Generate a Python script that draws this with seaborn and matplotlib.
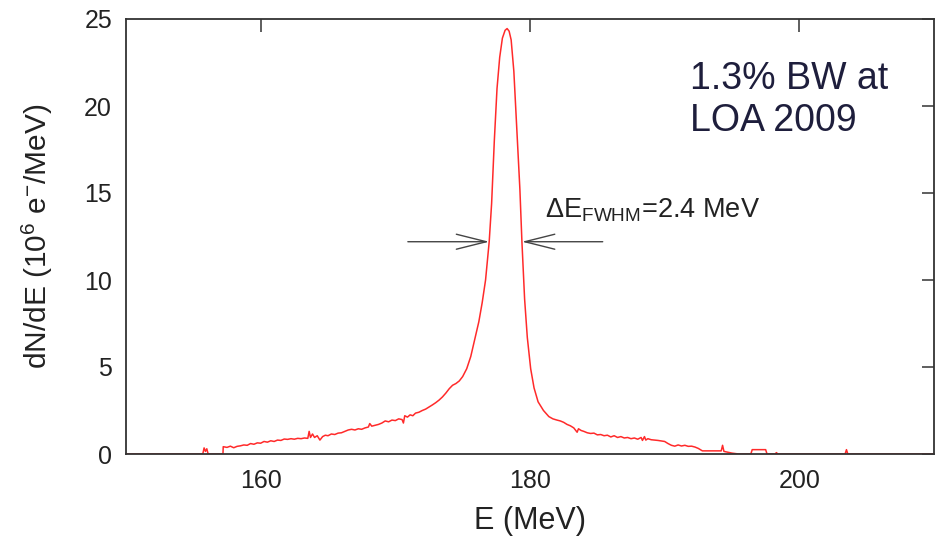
import matplotlib
matplotlib.use("Agg")
import matplotlib.pyplot as plt
import seaborn as sns
import pandas as pd

# Electron energy spectrum (MeV) and counts dN/dE (1e6 e-/MeV)
energy = [
    150.0, 155.7, 155.8, 155.9, 156.0, 156.1, 157.2, 157.22, 157.5, 157.75,
    158.0, 158.25, 158.5, 158.75, 159.0, 159.25, 159.5, 159.75, 160.0, 160.25,
    160.5, 160.75, 161.0, 161.25, 161.5, 161.75, 162.0, 162.25, 162.5, 162.75,
    163.0, 163.25, 163.5, 163.6, 163.7, 163.85, 164.0, 164.2, 164.4, 164.6,
    164.8, 165.0, 165.25, 165.5, 165.75, 166.0, 166.25, 166.5, 166.75, 167.0,
    167.25, 167.5, 167.75, 168.0, 168.1, 168.25, 168.5, 168.75, 169.0, 169.25,
    169.5, 169.75, 170.0, 170.25, 170.5, 170.6, 170.7, 170.9, 171.1, 171.3,
    171.5, 171.75, 172.0, 172.25, 172.5, 172.75, 173.0, 173.25, 173.5, 173.75,
    174.0, 174.25, 174.5, 174.75, 175.0, 175.3, 175.6, 175.9, 176.2, 176.45,
    176.7, 176.97, 177.15, 177.35, 177.55, 177.75, 177.95, 178.15, 178.3, 178.45,
    178.6, 178.8, 179.05, 179.25, 179.4, 179.6, 179.8, 180.05, 180.3, 180.6,
    181.0, 181.4, 181.7, 182.0, 182.25, 182.5, 182.75, 183.0, 183.25, 183.5,
    183.6, 183.8, 184.0, 184.25, 184.5, 184.75, 185.0, 185.25, 185.5, 185.75,
    186.0, 186.25, 186.5, 186.75, 187.0, 187.25, 187.5, 187.75, 188.0, 188.25,
    188.35, 188.5, 188.6, 188.75, 189.0, 189.25, 189.5, 189.75, 190.0, 190.25,
    190.5, 190.75, 191.0, 191.25, 191.5, 191.75, 192.0, 192.25, 192.5, 192.8,
    194.2, 194.3, 194.4, 194.7, 195.0, 195.5, 196.4, 196.5, 197.5, 197.6,
    198.2, 198.3, 198.4, 203.4, 203.5, 203.6, 210.0,
]
counts = [
    0.0, 0.0, 0.35, 0.15, 0.3, 0.0, 0.0, 0.42, 0.38, 0.45,
    0.36, 0.44, 0.47, 0.52, 0.5, 0.6, 0.56, 0.64, 0.62, 0.72,
    0.68, 0.76, 0.72, 0.8, 0.78, 0.86, 0.84, 0.88, 0.85, 0.9,
    0.88, 0.92, 0.9, 1.3, 0.95, 1.15, 0.95, 1.05, 0.8, 1.0,
    1.08, 1.05, 1.15, 1.12, 1.2, 1.22, 1.3, 1.38, 1.42, 1.38,
    1.45, 1.42, 1.5, 1.55, 1.75, 1.6, 1.65, 1.7, 1.78, 1.9,
    1.85, 1.95, 1.92, 2.02, 1.98, 1.78, 2.2, 2.12, 2.25, 2.2,
    2.35, 2.4, 2.5, 2.58, 2.7, 2.82, 2.95, 3.1, 3.28, 3.5,
    3.75, 3.95, 4.05, 4.2, 4.45, 4.9, 5.6, 6.6, 7.6, 8.7,
    10.0, 12.2, 14.4, 18.0, 21.0, 22.8, 23.9, 24.35, 24.45, 24.3,
    23.8, 22.0, 18.2, 15.2, 12.2, 8.9, 6.7, 4.9, 3.8, 3.0,
    2.5, 2.15, 2.02, 1.95, 1.9, 1.82, 1.7, 1.62, 1.5, 1.25,
    1.45, 1.35, 1.3, 1.22, 1.18, 1.2, 1.1, 1.12, 1.05, 1.08,
    0.98, 1.05, 0.95, 1.0, 0.92, 0.95, 0.88, 0.92, 0.85, 0.95,
    0.78, 1.0, 0.8, 0.88, 0.82, 0.8, 0.78, 0.75, 0.72, 0.6,
    0.5, 0.45, 0.52, 0.46, 0.5, 0.44, 0.45, 0.4, 0.32, 0.18,
    0.18, 0.5, 0.15, 0.1, 0.05, 0.0, 0.0, 0.25, 0.25, 0.0,
    0.0, 0.08, 0.0, 0.0, 0.25, 0.0, 0.0,
]

x_ticks = [160, 180, 200]
y_ticks = [0, 5, 10, 15, 20, 25]

fwhm_level = 12.2
fwhm_left, fwhm_right = 176.97, 179.4
arrow_left_tail, arrow_right_tail = 170.93, 185.4

sns.set_theme(style="white")
plt.rcParams["font.family"] = ["Liberation Sans", "DejaVu Sans"]
plt.rcParams["mathtext.fontset"] = "custom"
plt.rcParams["mathtext.rm"] = "Liberation Sans"
plt.rcParams["mathtext.it"] = "Liberation Sans:italic"
plt.rcParams["mathtext.bf"] = "Liberation Sans:bold"

df = pd.DataFrame({"E": energy, "dNdE": counts})

fig = plt.figure(figsize=(9.41, 5.38), dpi=100)
ax = fig.add_axes([126 / 941, 1 - 454 / 538, 808 / 941, 435 / 538])

sns.lineplot(data=df, x="E", y="dNdE", ax=ax, color="#ff2a2a",
             linewidth=1.1, estimator=None, sort=False)

ax.set_xlim(150, 210)
ax.set_ylim(0, 25)
ax.set_xticks(x_ticks)
ax.set_yticks(y_ticks)
ax.tick_params(direction="in", length=9, width=1.1, color="#333333",
               top=True, right=True, labelsize=18, labelcolor="#222222")
ax.tick_params(axis="x", pad=11)
ax.tick_params(axis="y", pad=10)
for s in ax.spines.values():
    s.set_color("#333333")
    s.set_linewidth(1.3)

ax.set_xlabel("E (MeV)", fontsize=22, color="#222222", labelpad=9)
ax.set_ylabel("dN/dE (10$^6$ e$^{-}$/MeV)", fontsize=21.5, color="#222222")
ax.yaxis.set_label_coords(-0.088, 0.5)

# FWHM arrows pointing inwards to the peak flanks
arrow_kw = dict(arrowstyle="->,head_length=1.8,head_width=0.45",
                color="#444444", lw=1.0, shrinkA=0, shrinkB=0)
ax.annotate("", xy=(fwhm_left, fwhm_level), xytext=(arrow_left_tail, fwhm_level),
            arrowprops=arrow_kw)
ax.annotate("", xy=(fwhm_right, fwhm_level), xytext=(arrow_right_tail, fwhm_level),
            arrowprops=arrow_kw)
ax.text(181.15, 13.6, "ΔE$_{\\mathrm{FWHM}}$=2.4 MeV", fontsize=19.5,
        color="#222222", ha="left", va="baseline")

ax.text(0.698, 0.903, "1.3% BW at\nLOA 2009", transform=ax.transAxes,
        fontsize=27, color="#1e1e3c", ha="left", va="top", linespacing=1.2)

fig.savefig("out.png", dpi=100)
